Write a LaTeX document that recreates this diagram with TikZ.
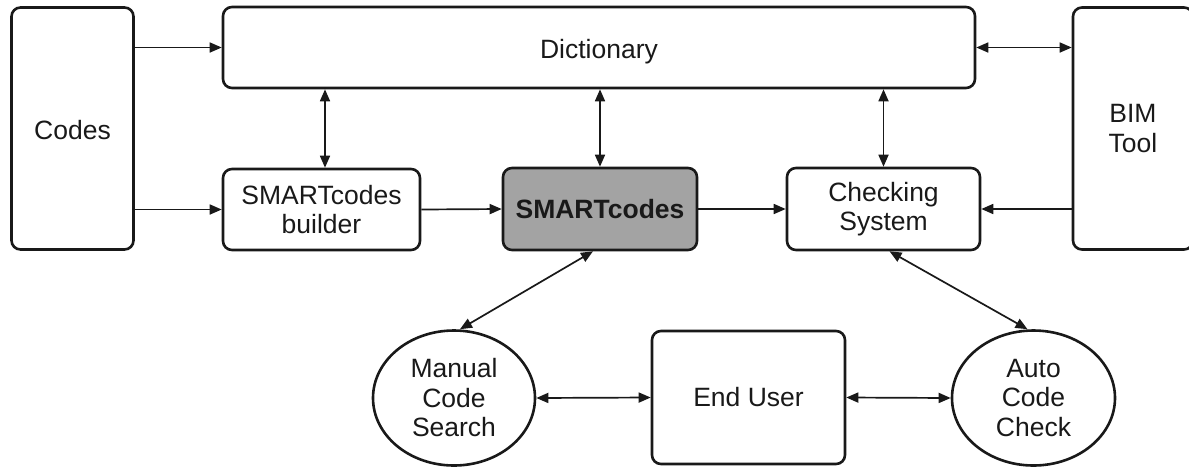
\documentclass[tikz,border=0pt]{standalone}
\usepackage{fontspec}
\setmainfont{Liberation Sans}
\usetikzlibrary{arrows.meta,shapes.geometric}
\definecolor{boxgray}{RGB}{163,163,163}
\definecolor{inkc}{RGB}{25,25,25}
\begin{document}
\begin{tikzpicture}[x=1pt,y=-1pt,
  every node/.style={font=\fontsize{26.5}{29.5}\selectfont, text=inkc, align=center, inner sep=0pt},
  box/.style={draw=inkc, line width=2.6pt, rounded corners=9pt, rectangle},
  oval/.style={draw=inkc, line width=2.6pt, ellipse},
  con/.style={draw=inkc, line width=1.7pt, -{Triangle[length=12pt,width=10pt]}},
  bicon/.style={draw=inkc, line width=1.7pt, {Triangle[length=12pt,width=10pt]}-{Triangle[length=12pt,width=10pt]}}]
\useasboundingbox (0,0) rectangle (1189,467);
\node[box, minimum width=122pt, minimum height=242pt] (codes) at (72.5,128.5) {\raisebox{-2pt}[\height][\depth]{Codes}};
\node[box, minimum width=752pt, minimum height=81pt] (dict) at (599,47.5) {\raisebox{-4pt}[\height][\depth]{Dictionary}};
\node[box, minimum width=197pt, minimum height=81pt] (builder) at (321.5,209.5) {SMARTcodes\\builder};
\node[box, fill=boxgray, minimum width=194pt, minimum height=82pt] (smart) at (600,209) {\bfseries SMARTcodes};
\node[box, minimum width=193pt, minimum height=82pt] (check) at (883.5,209) {Checking\\System};
\node[box, minimum width=120pt, minimum height=242pt] (bim) at (1133,128.5) {BIM\\Tool};
\node[oval, minimum width=162pt, minimum height=135pt] (manual) at (454,398) {Manual\\Code\\Search};
\node[box, minimum width=193pt, minimum height=133pt] (user) at (748.5,397.5) {End User};
\node[oval, minimum width=163pt, minimum height=135pt] (auto) at (1033.5,398) {Auto\\Code\\Check};
\draw[con] (codes.east |- dict.west) -- (dict.west);
\draw[con] (codes.east |- builder.west) -- (builder.west);
\draw[bicon] (dict.east) -- (dict.east -| bim.west);
\draw[con] (bim.west |- check.east) -- (check.east);
\draw[con] (builder.east) -- (smart.west);
\draw[con] (smart.east) -- (check.west);
\draw[bicon] ([xshift=3.5pt]builder.north) -- ([xshift=3.5pt]builder.north |- dict.south);
\draw[bicon] (smart.north) -- (smart.north |- dict.south);
\draw[bicon] (check.north) -- (check.north |- dict.south);
\draw[bicon] ([xshift=-7pt]smart.south) -- ([xshift=6pt]manual.north);
\draw[bicon] ([xshift=6pt]check.south) -- ([xshift=-6pt]auto.north);
\draw[bicon] (manual.east) -- (user.west);
\draw[bicon] (user.east) -- (auto.west);
\end{tikzpicture}
\end{document}
